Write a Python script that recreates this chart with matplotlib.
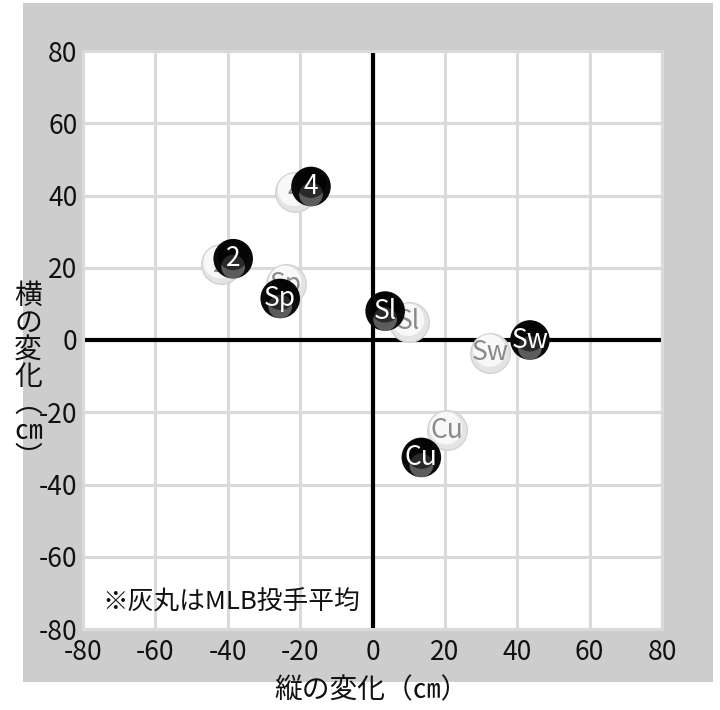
import matplotlib
matplotlib.use("Agg")
import matplotlib.pyplot as plt
from matplotlib.patches import Rectangle
from matplotlib.transforms import ScaledTranslation

plt.rcParams['font.family'] = ['Noto Sans CJK JP', 'DejaVu Sans']

# ---- data ----
pitch_labels = ["4", "2", "Sp", "Sl", "Sw", "Cu"]
pitcher_x = [-17.0, -38.5, -25.5, 3.5, 43.5, 13.5]
pitcher_y = [42.5, 22.5, 11.5, 8.0, 0.0, -32.5]
mlb_x = [-21.5, -42.0, -24.0, 10.0, 32.5, 20.5]
mlb_y = [41.0, 21.0, 15.5, 5.0, -3.5, -25.0]
ticks = [-80, -60, -40, -20, 0, 20, 40, 60, 80]
tick_labels = ["-80", "-60", "-40", "-20", "0", "20", "40", "60", "80"]
ylabel_chars = ["横", "の", "変", "化", "︵", "㎝", "︶"]

fig = plt.figure(figsize=(7.2, 7.1), dpi=100)
fig.patch.set_facecolor("white")
W, H = 720, 710
fig.patches.append(Rectangle((23 / W, 1 - 682 / H), (713 - 23) / W, (682 - 3) / H,
                             transform=fig.transFigure, facecolor="#cdcdcd",
                             edgecolor="none", zorder=-10))

ax = fig.add_axes([83 / W, 1 - 629 / H, (662 - 83) / W, (629 - 51) / H])
ax.set_zorder(1)
ax.set_facecolor("white")
ax.set_xlim(-80, 80)
ax.set_ylim(-80, 80)
ax.set_xticks(ticks)
ax.set_yticks(ticks)
ax.set_xticklabels(tick_labels)
ax.set_yticklabels(tick_labels)
ax.tick_params(length=0, labelsize=19, labelcolor="#111111")
ax.tick_params(axis="y", pad=4)
ax.tick_params(axis="x", pad=7)
ax.grid(True, color="#dadada", linewidth=2.2, zorder=0)
ax.set_axisbelow(True)
for sp in ax.spines.values():
    sp.set_color("#dadada")
    sp.set_linewidth(2.2)
ax.axhline(0, color="black", linewidth=3, zorder=2)
ax.axvline(0, color="black", linewidth=3, zorder=2)

D = 28.5  # marker diameter in points


def off(dx_pt, dy_pt):
    return ax.transData + ScaledTranslation(dx_pt / 72, dy_pt / 72, fig.dpi_scale_trans)


# MLB average (light balls)
ax.scatter(mlb_x, mlb_y, s=D ** 2, color="#e4e4e4", edgecolors="#d2d2d2",
           linewidths=1.0, zorder=3)
ax.scatter(mlb_x, mlb_y, s=(0.82 * D) ** 2, color="#fbfbfb", alpha=0.9,
           edgecolors="none", zorder=3.1, transform=off(-0.5, 1.5))
for x, y, t in zip(mlb_x, mlb_y, pitch_labels):
    ax.text(x, y, t, color="#8a8a8a", fontsize=19, ha="center", va="center",
            zorder=3.5)

# pitcher (dark balls)
ax.scatter(pitcher_x, pitcher_y, s=D ** 2, color="#0a0a0a", edgecolors="none",
           zorder=5)
ax.scatter(pitcher_x, pitcher_y, s=(0.6 * D) ** 2, color="#a0a0a0", alpha=0.55,
           edgecolors="none", zorder=5.1, transform=off(0, -0.2 * D))
ax.scatter(pitcher_x, pitcher_y, s=(0.78 * D) ** 2, color="#000000", alpha=0.55,
           edgecolors="none", zorder=5.2, transform=off(0, 0.1 * D))
for x, y, t in zip(pitcher_x, pitcher_y, pitch_labels):
    ax.text(x, y, t, color="white", fontsize=19, ha="center", va="center",
            zorder=6)

ax.text(0.033, 0.045, "※灰丸はMLB投手平均", transform=ax.transAxes,
        fontsize=18.5, color="#111111", ha="left", va="center", zorder=7)

fig.text(372 / W, 1 - 690 / H, "縦の変化（㎝）", fontsize=20, color="#111111",
         ha="center", va="center")
# vertical (stacked) y-axis label as one multi-line text
fig.text(28 / W, 1 - 466 / H, "\n".join(ylabel_chars), fontsize=20,
         color="#111111", ha="center", va="baseline", linespacing=0.87)

fig.savefig("out.png", dpi=100, facecolor="white")
